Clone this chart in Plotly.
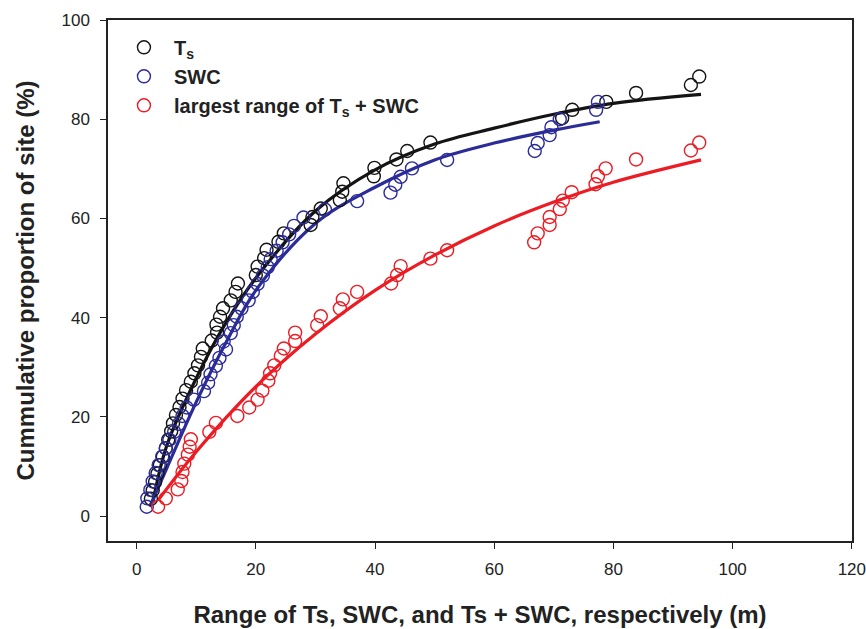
import plotly.graph_objects as go

# ---- data ----
ts_x = [2.4, 2.7, 3.1, 3.5, 3.9, 4.4, 4.9, 5.3, 5.8, 6.1, 6.6, 7.2, 7.7, 8.3, 9.1, 9.7,
        10.3, 10.8, 11.1, 12.6, 13.5, 13.4, 14.0, 14.5, 15.8, 16.6, 17.0, 20.0, 20.3, 21.4,
        21.8, 23.8, 24.7, 29.2, 29.5, 30.9, 34.1, 34.5, 34.7, 39.8, 39.9, 43.6, 45.4, 49.3,
        71.4, 73.1, 78.8, 83.8, 93.0, 94.4]
ts_y = [3.5, 5.2, 6.9, 8.6, 10.3, 12.0, 13.7, 15.4, 17.1, 18.7, 20.4, 22.0, 23.7, 25.4, 27.1, 28.8,
        30.4, 32.1, 33.8, 35.4, 37.0, 38.6, 40.2, 41.9, 43.5, 45.2, 46.9, 48.6, 50.3, 52.0,
        53.7, 55.3, 57.0, 58.7, 60.3, 62.0, 63.7, 65.4, 67.1, 68.5, 70.2, 71.9, 73.6, 75.3,
        80.2, 81.9, 83.5, 85.3, 86.9, 88.6]

swc_x = [1.7, 1.8, 2.3, 2.7, 3.2, 3.7, 4.3, 4.9, 5.5, 6.3, 7.1, 7.7, 8.4, 9.6, 11.3, 12.0,
         12.4, 13.3, 13.9, 15.0, 14.6, 15.8, 16.3, 16.8, 17.6, 18.8, 19.5, 20.3, 21.2, 22.0,
         22.5, 23.5, 24.5, 25.6, 26.4, 28.0, 31.6, 37.0, 42.6, 43.4, 44.3, 46.2, 52.1, 66.8,
         67.3, 69.3, 69.6, 71.0, 77.1, 77.4]
swc_y = [1.9, 3.6, 5.3, 7.0, 8.7, 10.3, 12.0, 13.7, 15.4, 17.0, 18.6, 20.2, 21.9, 23.5, 25.2, 26.9,
         28.6, 30.3, 31.9, 33.6, 35.2, 36.9, 38.5, 40.2, 41.9, 43.5, 45.2, 46.8, 48.5, 50.2,
         51.8, 53.5, 55.2, 56.8, 58.5, 60.2, 61.8, 63.5, 65.2, 66.8, 68.4, 70.1, 71.8, 73.6,
         75.2, 76.8, 78.4, 80.0, 81.9, 83.5]

both_x = [3.6, 4.9, 6.9, 7.5, 7.7, 8.0, 8.6, 8.9, 9.1, 12.2, 13.3, 16.9, 18.9, 20.3, 21.1,
          22.1, 22.4, 23.1, 24.2, 24.7, 26.6, 26.6, 30.3, 30.9, 34.1, 34.6, 37.0, 42.7, 43.7,
          44.3, 49.3, 52.1, 66.7, 67.3, 69.3, 69.3, 71.0, 71.5, 73.0, 77.0, 77.4, 78.7, 83.8,
          93.0, 94.4]
both_y = [1.9, 3.6, 5.4, 7.1, 8.9, 10.6, 12.4, 14.0, 15.5, 17.0, 18.8, 20.2, 21.9, 23.5, 25.3,
          27.3, 28.8, 30.4, 32.3, 33.8, 35.3, 37.0, 38.5, 40.3, 41.9, 43.7, 45.2, 46.9, 48.6,
          50.4, 51.9, 53.6, 55.2, 57.0, 58.7, 60.3, 61.9, 63.6, 65.3, 66.9, 68.5, 70.1, 71.9,
          73.7, 75.3]

# fitted curves (read at a few x positions)
ts_fit_x = [2.7, 5, 10, 15, 20, 30, 40, 50, 60, 70, 80, 94.7]
ts_fit_y = [2.6, 14.0, 27.8, 39.0, 48.0, 61.5, 69.8, 75.0, 78.2, 81.0, 83.2, 85.0]
swc_fit_x = [2.2, 5, 10, 15, 20, 30, 40, 50, 60, 70, 77.7]
swc_fit_y = [1.9, 9.5, 23.0, 35.0, 45.5, 59.0, 66.3, 71.8, 75.2, 77.8, 79.5]
both_fit_x = [3.6, 10, 20, 30, 40, 50, 60, 70, 80, 94.7]
both_fit_y = [3.2, 13.0, 26.1, 36.7, 45.5, 52.6, 58.5, 63.3, 67.3, 71.8]

x_ticks = [0, 20, 40, 60, 80, 100, 120]
y_ticks = [0, 20, 40, 60, 80, 100]

BLACK = "#141414"
BLUE = "#2b2c98"
RED = "#ec1c24"
FONT = "Liberation Sans, Arial, sans-serif"

fig = go.Figure()
for fx, fy, col in [(ts_fit_x, ts_fit_y, BLACK), (swc_fit_x, swc_fit_y, BLUE),
                    (both_fit_x, both_fit_y, RED)]:
    fig.add_trace(go.Scatter(x=fx, y=fy, mode="lines", line=dict(color=col, width=3.2, shape="spline"),
                             showlegend=False, hoverinfo="skip"))

for px, py, col, name in [(ts_x, ts_y, BLACK, "<b>T<sub>s</sub></b>"),
                          (swc_x, swc_y, BLUE, "<b>SWC</b>"),
                          (both_x, both_y, RED, "<b>largest range of T<sub>s</sub> + SWC</b>")]:
    fig.add_trace(go.Scatter(x=px, y=py, mode="markers", name=name,
                             marker=dict(symbol="circle-open", size=13, color=col,
                                         line=dict(color=col, width=1.4))))

axis_common = dict(showline=True, linecolor="#222", linewidth=1.5, mirror=True,
                   ticks="outside", ticklen=6, tickwidth=1.3, tickcolor="#222",
                   showgrid=False, zeroline=False, automargin=False,
                   ticklabeloverflow="allow",
                   tickfont=dict(family=FONT, size=17, color="#222"))

fig.update_layout(
    width=866, height=629,
    margin=dict(l=108, r=14, t=20, b=88),
    paper_bgcolor="white", plot_bgcolor="white",
    xaxis=dict(range=[-4.8, 120.03], tickvals=x_ticks, ticklabelstandoff=6,
               title=dict(text="<b>Range of Ts, SWC, and Ts + SWC, respectively (m)</b>",
                          font=dict(family=FONT, size=24, color="#222"), standoff=28),
               **axis_common),
    yaxis=dict(range=[-5, 100], tickvals=y_ticks, ticklabelstandoff=7,
               title=dict(text="<b>Cummulative proportion of site (%)</b>",
                          font=dict(family=FONT, size=24, color="#222"), standoff=20),
               **axis_common),
    legend=dict(x=0.008, y=0.985, xanchor="left", yanchor="top", bgcolor="rgba(0,0,0,0)",
                font=dict(family=FONT, size=20, color="#222"), itemwidth=50),
    showlegend=True,
)

fig.write_html("out.html", config={"displayModeBar": False},
               post_script="document.body.style.margin='0';")
